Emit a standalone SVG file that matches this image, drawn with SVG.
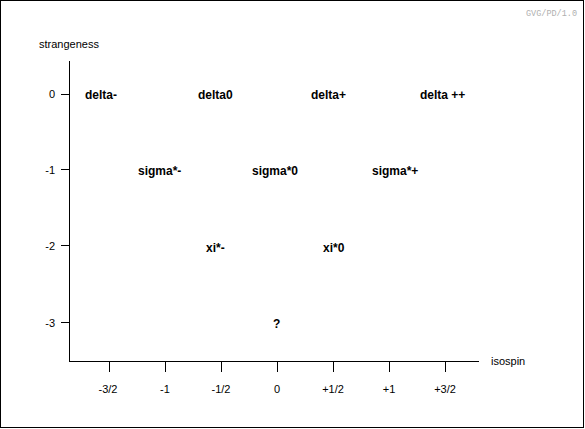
<svg xmlns="http://www.w3.org/2000/svg" width="585" height="429" viewBox="0 0 585 429">
<style>
.ax{stroke:#000;stroke-width:1;fill:none;shape-rendering:crispEdges}
.lbl{font-family:"Liberation Sans",Arial,sans-serif;font-size:11px;fill:#000}
.node{font-family:"Liberation Sans",Arial,sans-serif;font-size:12px;font-weight:bold;fill:#000}
.xt{text-anchor:middle}
.yt{text-anchor:end}
</style>
<rect x="0" y="0" width="585" height="429" fill="#fff"/>
<rect class="ax" x="0.5" y="0.5" width="583" height="427"/>
<text x="577" y="16" text-anchor="end" style="font-family:'Liberation Mono',monospace;font-size:8.5px;fill:#b0b0b0">GVG/PD/1.0</text>
<g id="axes">
<path class="ax" d="M69.5,61 V361.5 H479"/>
<path class="ax" d="M61,94.5 H69 M61,169.5 H69 M61,245.5 H69 M61,322.5 H69"/>
<path class="ax" d="M109.5,361 V372 M165.5,361 V372 M221.5,361 V372 M277.5,361 V372 M333.5,361 V372 M389.5,361 V372 M445.5,361 V372"/>
<text class="lbl" x="39" y="48">strangeness</text>
<text class="lbl" x="491" y="365">isospin</text>
<text class="lbl yt" x="55" y="98">0</text>
<text class="lbl yt" x="55" y="174">-1</text>
<text class="lbl yt" x="55" y="250">-2</text>
<text class="lbl yt" x="55" y="327">-3</text>
<text class="lbl xt" x="108" y="393">-3/2</text>
<text class="lbl xt" x="165" y="393">-1</text>
<text class="lbl xt" x="221" y="393">-1/2</text>
<text class="lbl xt" x="277" y="393">0</text>
<text class="lbl xt" x="333" y="393">+1/2</text>
<text class="lbl xt" x="389" y="393">+1</text>
<text class="lbl xt" x="445" y="393">+3/2</text>
</g>
<g id="connectors"></g>
<g id="delta-minus"><text class="node" x="85" y="99">delta-</text></g>
<g id="delta-zero"><text class="node" x="198" y="99">delta0</text></g>
<g id="delta-plus"><text class="node" x="311" y="99">delta+</text></g>
<g id="delta-plusplus"><text class="node" x="420" y="99">delta ++</text></g>
<g id="sigma-minus"><text class="node" x="138" y="174.5">sigma*-</text></g>
<g id="sigma-zero"><text class="node" x="252" y="174.5">sigma*0</text></g>
<g id="sigma-plus"><text class="node" x="372" y="174.5">sigma*+</text></g>
<g id="xi-minus"><text class="node" x="206" y="251.5">xi*-</text></g>
<g id="xi-zero"><text class="node" x="323" y="251.5">xi*0</text></g>
<g id="unknown"><text class="node" x="273" y="327.5">?</text></g>
</svg>
